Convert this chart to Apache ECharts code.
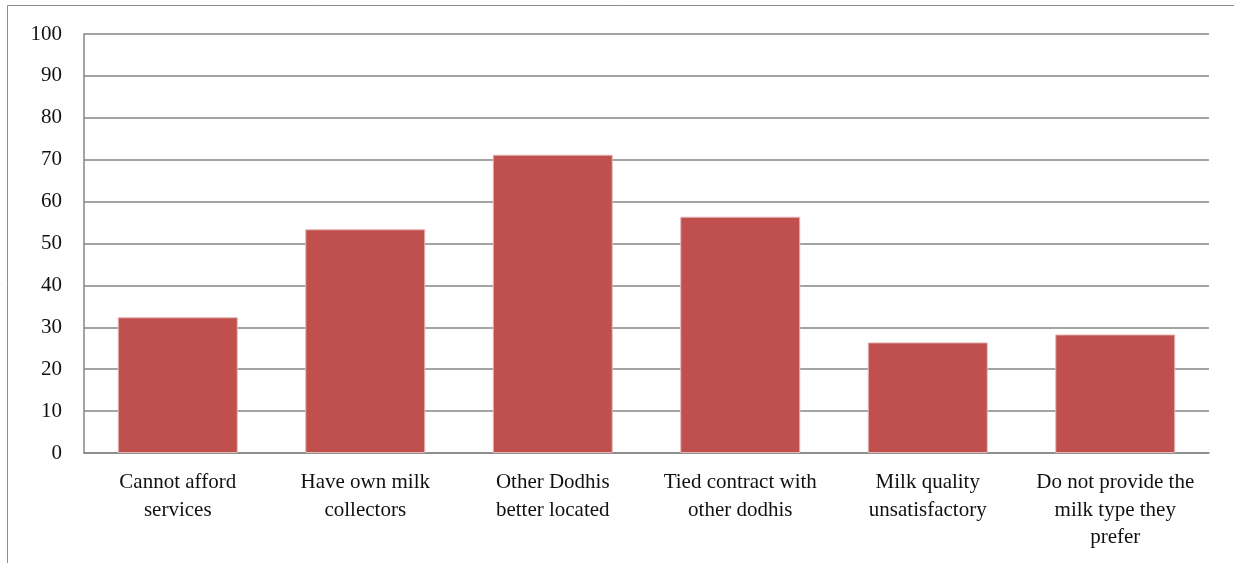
<!DOCTYPE html>
<html>
<head>
<meta charset="utf-8">
<style>
  html, body { margin: 0; padding: 0; background: #fff; }
  #chart { width: 1234px; height: 563px; }
</style>
<script src="https://cdn.jsdelivr.net/npm/echarts@6/dist/echarts.min.js"></script>
</head>
<body>
<div id="chart"></div>
<script>
// Reasons given for not using the service (percent of respondents)
const categories = [
  'Cannot afford\nservices',
  'Have own milk\ncollectors',
  'Other Dodhis\nbetter located',
  'Tied contract with\nother dodhis',
  'Milk quality\nunsatisfactory',
  'Do not provide the\nmilk type they\nprefer'
];
const values = [32.4, 53.4, 71.2, 56.4, 26.4, 28.3];
const yTicks = { min: 0, max: 100, interval: 10 };

const fontFamily = '"Liberation Serif", "DejaVu Serif", serif';
const chart = echarts.init(document.getElementById('chart'), null, { renderer: 'canvas' });

chart.setOption({
  animation: false,
  backgroundColor: '#ffffff',
  graphic: [{
    type: 'rect',
    shape: { x: 7.5, y: 5.5, width: 1240, height: 570 },
    style: { fill: 'none', stroke: '#8c8c8c', lineWidth: 1 },
    silent: true
  }],
  grid: { left: 84, right: 25, top: 34, bottom: 110, containLabel: false },
  xAxis: {
    type: 'category',
    data: categories,
    axisLine: { lineStyle: { color: '#868686', width: 1.5 } },
    axisTick: { show: false },
    axisLabel: {
      color: '#111',
      fontFamily: fontFamily,
      fontSize: 21,
      lineHeight: 27.5,
      margin: 16,
      interval: 0
    }
  },
  yAxis: {
    type: 'value',
    min: yTicks.min,
    max: yTicks.max,
    interval: yTicks.interval,
    axisLine: { show: true, lineStyle: { color: '#868686', width: 1.5 } },
    axisTick: { show: false },
    splitLine: { lineStyle: { color: '#868686', width: 1.5 } },
    axisLabel: {
      color: '#111',
      fontFamily: fontFamily,
      fontSize: 21,
      margin: 22
    }
  },
  series: [{
    type: 'bar',
    data: values,
    barWidth: '64%',
    itemStyle: {
      color: '#C0504D',
      borderColor: '#e6b8b7',
      borderWidth: 1
    }
  }]
});
</script>
</body>
</html>
